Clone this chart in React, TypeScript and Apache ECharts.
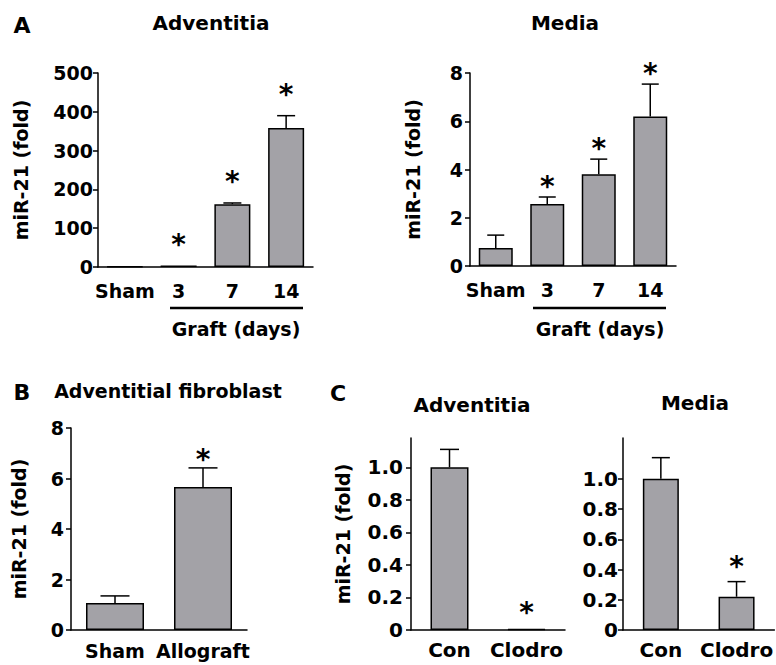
import React, { useEffect, useRef } from 'react';
import * as echarts from 'echarts';

// ---------- data ----------
const aCats = ['Sham', '3', '7', '14'];
const aAdvValues = [1, 4, 162, 358];
const aAdvErrTop = [1, 4, 165, 390];
const aAdvStars = [false, true, true, true];

const aMedValues = [0.75, 2.57, 3.8, 6.2];
const aMedErrTop = [1.28, 2.86, 4.43, 7.54];
const aMedStars = [false, true, true, true];

const bCats = ['Sham', 'Allograft'];
const bValues = [1.07, 5.66];
const bErrTop = [1.35, 6.42];
const bStars = [false, true];

const cCats = ['Con', 'Clodro'];
const cAdvValues = [1.0, 0.005];
const cAdvErrTop = [1.11, 0.005];
const cAdvStars = [false, true];
const cMedValues = [1.0, 0.22];
const cMedErrTop = [1.14, 0.32];
const cMedStars = [false, true];
const cTickValues = [0, 0.2, 0.4, 0.6, 0.8, 1.0];

const yTitle = 'miR-21 (fold)';
const FONT = 'DejaVu Sans';
const BAR_COLOR = '#a3a2a7';

type Panel = {
  left: number; top: number; width: number; height: number;
  cats: string[]; values: number[]; errTop: number[]; stars: boolean[];
  max: number; interval: number; customTicks?: number[];
  barWidth: number; yName: boolean; nameGap: number;
  fs: number; yMargin: number; xMargin: number; starGap: number;
};

const panels: Panel[] = [
  { left: 98, top: 73, width: 215, height: 194, cats: aCats, values: aAdvValues, errTop: aAdvErrTop, stars: aAdvStars,
    max: 500, interval: 100, barWidth: 36, yName: true, nameGap: 68, fs: 19, yMargin: 5, xMargin: 14, starGap: 28 },
  { left: 470, top: 73, width: 206, height: 193, cats: aCats, values: aMedValues, errTop: aMedErrTop, stars: aMedStars,
    max: 8, interval: 2, barWidth: 34, yName: true, nameGap: 48, fs: 19, yMargin: 7, xMargin: 14, starGap: 18 },
  { left: 71, top: 428, width: 176, height: 202, cats: bCats, values: bValues, errTop: bErrTop, stars: bStars,
    max: 8, interval: 2, barWidth: 58, yName: true, nameGap: 43, fs: 19, yMargin: 7, xMargin: 11, starGap: 15 },
  { left: 411, top: 438, width: 154, height: 192, cats: cCats, values: cAdvValues, errTop: cAdvErrTop, stars: cAdvStars,
    max: 1.18, interval: 0.2, customTicks: cTickValues, barWidth: 38, yName: true, nameGap: 59, fs: 20, yMargin: 8, xMargin: 10, starGap: 24 },
  { left: 623, top: 438, width: 152, height: 192, cats: cCats, values: cMedValues, errTop: cMedErrTop, stars: cMedStars,
    max: 1.27, interval: 0.2, customTicks: cTickValues, barWidth: 36, yName: false, nameGap: 40, fs: 20, yMargin: 5, xMargin: 10, starGap: 22 },
];

function buildOption() {
  const grid: any[] = [];
  const xAxis: any[] = [];
  const yAxis: any[] = [];
  const series: any[] = [];
  const black = '#000';

  panels.forEach((p, i) => {
    grid.push({ left: p.left, top: p.top, width: p.width, height: p.height, containLabel: false });
    xAxis.push({
      type: 'category', gridIndex: i, data: p.cats, boundaryGap: true,
      axisLine: { show: true, lineStyle: { color: black, width: 1.5 } },
      axisTick: { show: false },
      axisLabel: { interval: 0, color: black, fontFamily: FONT, fontWeight: 'bold', fontSize: p.fs, margin: p.xMargin },
      splitLine: { show: false },
    });
    const fmt = p.customTicks ? (v: number) => (v === 0 ? '0' : v.toFixed(1)) : (v: number) => String(v);
    const y: any = {
      type: 'value', gridIndex: i, min: 0, max: p.max, interval: p.interval,
      axisLine: { show: true, lineStyle: { color: black, width: 1.5 } },
      axisTick: { show: true, length: 5, lineStyle: { color: black, width: 1.5 } },
      axisLabel: { color: black, fontFamily: FONT, fontWeight: 'bold', fontSize: p.fs, margin: p.yMargin, formatter: fmt },
      splitLine: { show: false },
    };
    if (p.customTicks) {
      y.axisTick.customValues = p.customTicks;
      y.axisLabel.customValues = p.customTicks;
    }
    if (p.yName) {
      y.name = yTitle;
      y.nameLocation = 'middle';
      y.nameGap = p.nameGap;
      y.nameTextStyle = { color: black, fontFamily: FONT, fontWeight: 'bold', fontSize: 19 };
    }
    yAxis.push(y);

    series.push({
      type: 'bar', xAxisIndex: i, yAxisIndex: i, data: p.values, barWidth: p.barWidth,
      itemStyle: { color: BAR_COLOR, borderColor: black, borderWidth: 1.5 },
      silent: true,
    });
    const capHalf = p.barWidth * 0.25;
    series.push({
      type: 'custom', xAxisIndex: i, yAxisIndex: i,
      data: p.values.map((v, k) => [k, v, p.errTop[k], p.stars[k] ? 1 : 0]),
      encode: { x: 0, y: 1 },
      clip: false, silent: true, z: 5,
      renderItem: (params: any, api: any) => {
        const k = api.value(0);
        const v = api.value(1);
        const e = api.value(2);
        const star = api.value(3);
        const base = api.coord([k, v]);
        const top = api.coord([k, e]);
        const children: any[] = [];
        if (e > v) {
          children.push({ type: 'line', shape: { x1: base[0], y1: base[1], x2: top[0], y2: top[1] }, style: { stroke: black, lineWidth: 1.5 } });
          children.push({ type: 'line', shape: { x1: top[0] - capHalf, y1: top[1], x2: top[0] + capHalf, y2: top[1] }, style: { stroke: black, lineWidth: 1.5 } });
        }
        if (star) {
          children.push({
            type: 'text', x: top[0], y: top[1] - p.starGap + 7,
            style: { text: '*', fill: black, font: `bold 28px "${FONT}"`, textAlign: 'center', textVerticalAlign: 'middle' },
          });
        }
        return { type: 'group', children };
      },
    });
  });

  const txt = (x: number, y: number, text: string, size: number) => ({
    type: 'text', x, y,
    style: { text, fill: '#000', font: `bold ${size}px "${FONT}"`, textAlign: 'center', textVerticalAlign: 'middle' },
  });
  const ln = (x1: number, x2: number, y: number) => ({
    type: 'line', shape: { x1, y1: y, x2, y2: y }, style: { stroke: '#000', lineWidth: 2.5 },
  });

  const graphic = [
    txt(22, 25, 'A', 22),
    txt(211, 23, 'Adventitia', 20),
    txt(565, 23, 'Media', 20),
    ln(170, 303, 308),
    txt(236, 329, 'Graft (days)', 19),
    ln(533, 666, 308),
    txt(600, 329, 'Graft (days)', 19),
    txt(22, 392, 'B', 22),
    txt(168, 391, 'Adventitial fibroblast', 19),
    txt(338, 393, 'C', 22),
    txt(472, 405, 'Adventitia', 20),
    txt(695, 403, 'Media', 20),
  ];

  return { animation: false, backgroundColor: '#fff', grid, xAxis, yAxis, series, graphic };
}

export default function App() {
  const ref = useRef<HTMLDivElement>(null);
  useEffect(() => {
    if (!ref.current) return;
    const chart = echarts.init(ref.current, undefined, { renderer: 'svg' });
    chart.setOption(buildOption() as any);
    return () => chart.dispose();
  }, []);
  return <div ref={ref} style={{ position: 'fixed', left: 0, top: 0, width: 776, height: 665, background: '#fff' }} />;
}
